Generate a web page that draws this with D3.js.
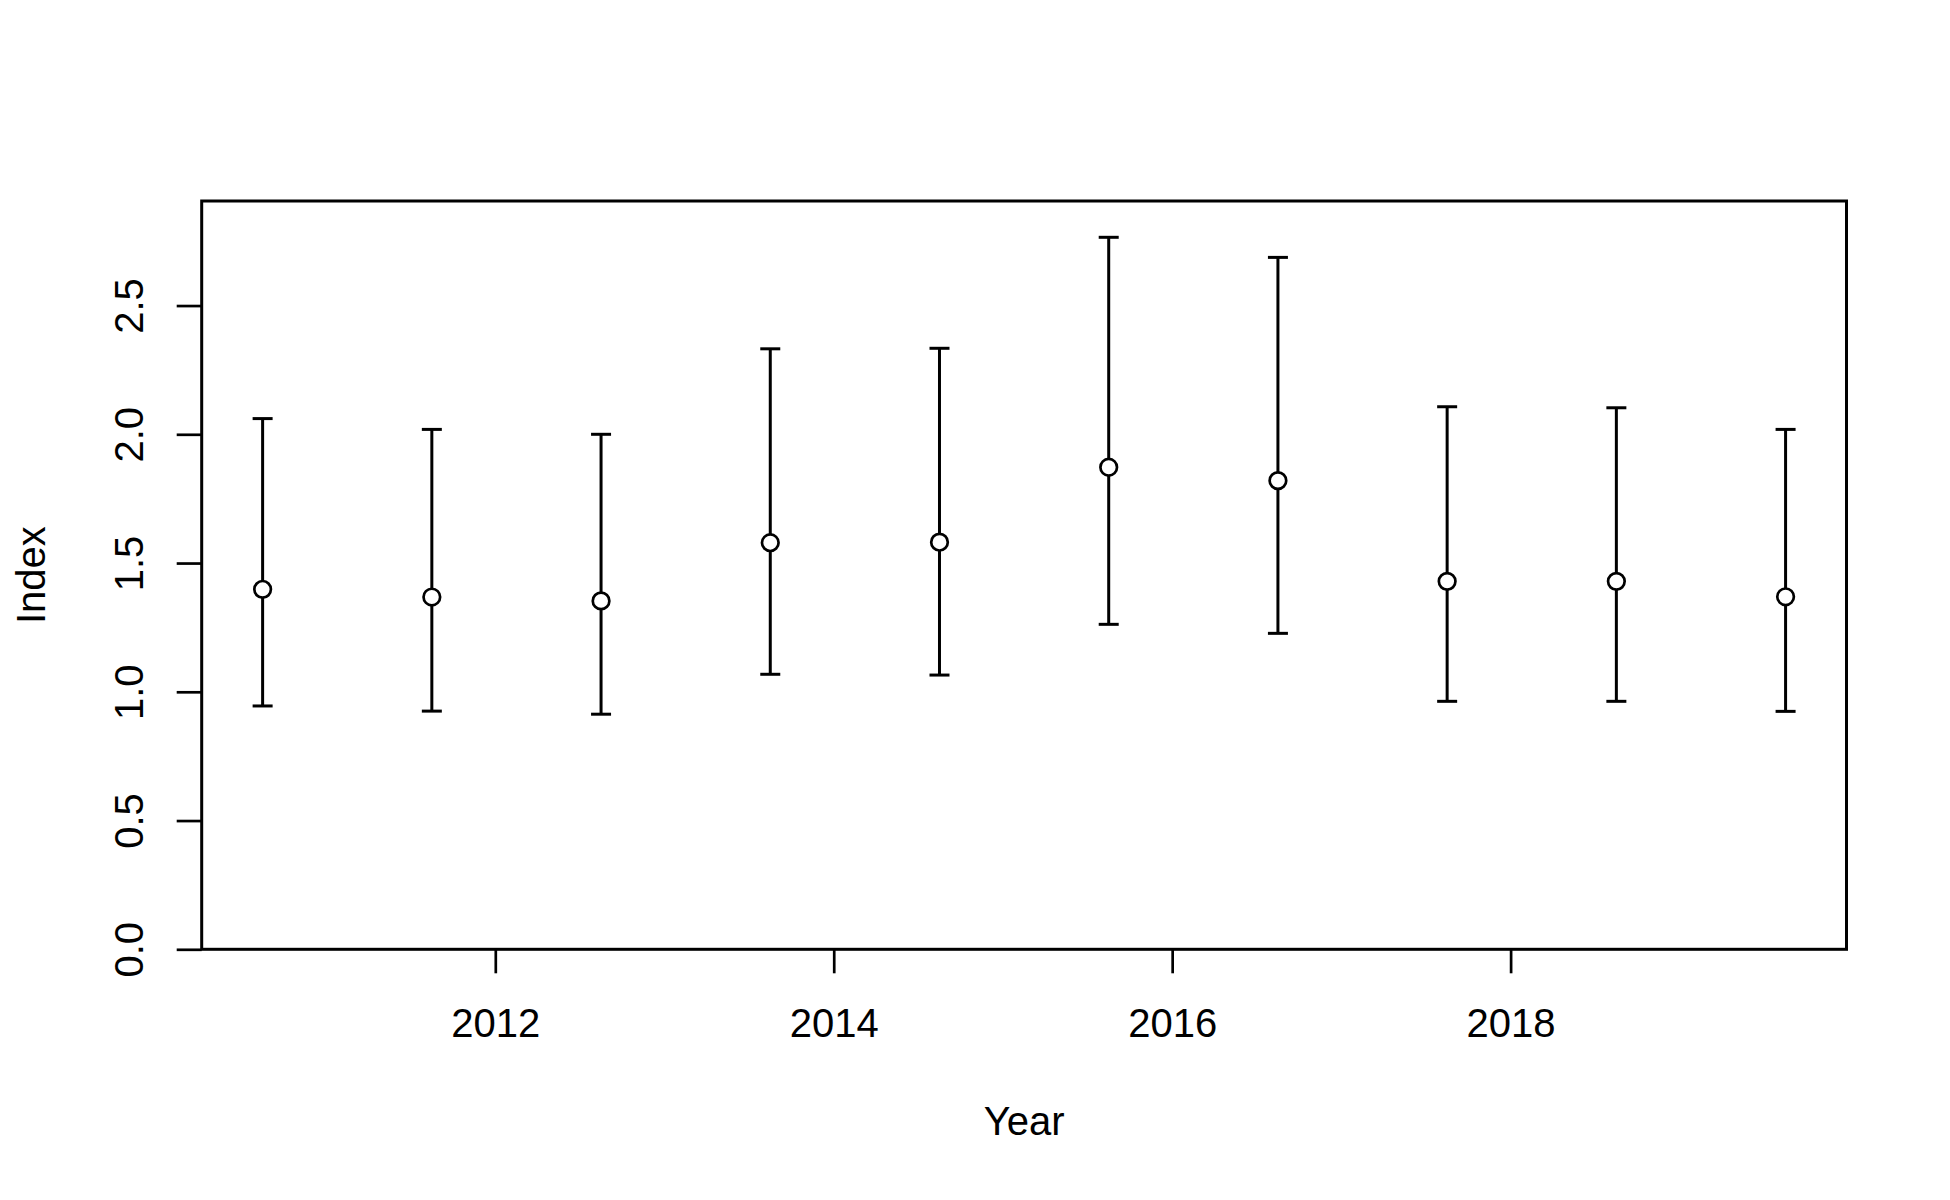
<!DOCTYPE html>
<html>
<head>
<meta charset="utf-8">
<script src="https://cdn.jsdelivr.net/npm/d3@7"></script>
<style>
  body { margin: 0; background: #fff; }
  text { font-family: Arial, "Liberation Sans", sans-serif; fill: #000; }
</style>
</head>
<body>
<script>
// datos
var years = [2010.625, 2011.625, 2012.625, 2013.625, 2014.625, 2015.625, 2016.625, 2017.625, 2018.625, 2019.625]
var index = [1.398, 1.368, 1.353, 1.579, 1.581, 1.872, 1.820, 1.429, 1.429, 1.369]
var lower = [0.945, 0.925, 0.913, 1.068, 1.065, 1.262, 1.227, 0.963, 0.963, 0.924]
var upper = [2.061, 2.019, 2.000, 2.332, 2.334, 2.765, 2.687, 2.107, 2.103, 2.019]
var xTicks = [2012, 2014, 2016, 2018]
var yTicks = [0, 0.5, 1, 1.5, 2, 2.5]

var width = 1950, height = 1200
var plotLeft = 201.7, plotRight = 1846.5, plotTop = 201, plotBottom = 949.3

var svg = d3.select("body").append("svg")
    .attr("width", width)
    .attr("height", height)

var x = d3.scaleLinear()
    .domain([2010.265, 2019.985])
    .range([plotLeft, plotRight])

var y = d3.scaleLinear()
    .domain([0, 2.906])
    .range([plotBottom, plotTop])

var data = years.map((d, i) => ({ year: d, val: index[i], lo: lower[i], hi: upper[i] }))

// eje x
var gx = svg.append("g")
    .attr("transform", "translate(0," + plotBottom + ")")
    .call(d3.axisBottom(x).tickValues(xTicks).tickFormat(d3.format("d")).tickSize(24).tickSizeOuter(0))
gx.select(".domain").remove()
gx.selectAll("line").attr("stroke", "#000").attr("stroke-width", 2.7)
gx.selectAll("text")
    .attr("y", 87.5)
    .attr("dy", 0)
    .style("font-size", "40px")

// eje y
var gy = svg.append("g")
    .attr("transform", "translate(" + plotLeft + ",0)")
    .call(d3.axisLeft(y).tickValues(yTicks).tickFormat(d3.format(".1f")).tickSize(25).tickSizeOuter(0))
gy.select(".domain").remove()
gy.selectAll("line").attr("stroke", "#000").attr("stroke-width", 2.7)
gy.selectAll("text")
    .attr("transform", "rotate(-90)")
    .attr("x", 0)
    .attr("y", -58.7)
    .attr("dy", 0)
    .attr("text-anchor", "middle")
    .style("font-size", "40px")

// caja
svg.append("rect")
    .attr("x", plotLeft)
    .attr("y", plotTop)
    .attr("width", plotRight - plotLeft)
    .attr("height", plotBottom - plotTop)
    .attr("fill", "none")
    .attr("stroke", "#000")
    .attr("stroke-width", 3)

// barras de error
var bars = svg.append("g").selectAll("g")
    .data(data)
    .enter()
    .append("g")
    .attr("stroke", "#000")
    .attr("stroke-width", 3)

bars.append("line")
    .attr("x1", d => x(d.year))
    .attr("x2", d => x(d.year))
    .attr("y1", d => y(d.lo))
    .attr("y2", d => y(d.hi))

bars.append("line")
    .attr("x1", d => x(d.year) - 10)
    .attr("x2", d => x(d.year) + 10)
    .attr("y1", d => y(d.hi))
    .attr("y2", d => y(d.hi))

bars.append("line")
    .attr("x1", d => x(d.year) - 10)
    .attr("x2", d => x(d.year) + 10)
    .attr("y1", d => y(d.lo))
    .attr("y2", d => y(d.lo))

bars.append("circle")
    .attr("cx", d => x(d.year))
    .attr("cy", d => y(d.val))
    .attr("r", 8.3)
    .attr("fill", "#fff")
    .attr("stroke-width", 2.7)

// titulos de ejes
svg.append("text")
    .attr("x", (plotLeft + plotRight) / 2)
    .attr("y", 1135)
    .attr("text-anchor", "middle")
    .style("font-size", "40px")
    .text("Year")

svg.append("text")
    .attr("transform", "translate(45," + ((plotTop + plotBottom) / 2) + ") rotate(-90)")
    .attr("text-anchor", "middle")
    .style("font-size", "40px")
    .text("Index")
</script>
</body>
</html>
